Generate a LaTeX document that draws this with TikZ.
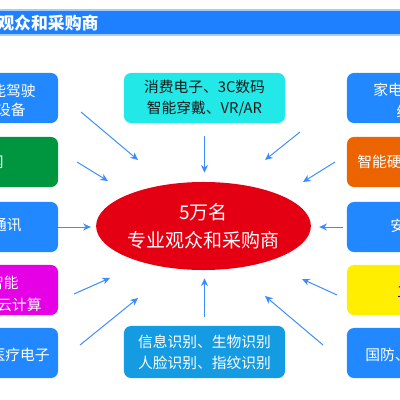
\documentclass[tikz,border=0pt]{standalone}
\usepackage{fontspec}
\setmainfont{Noto Sans CJK SC}
\usepackage{xcolor}
\definecolor{bannerblue}{RGB}{30,128,255}
\definecolor{boxblue}{RGB}{33,136,255}
\definecolor{boxgreen}{RGB}{0,150,64}
\definecolor{boxorange}{RGB}{235,100,0}
\definecolor{boxmagenta}{RGB}{230,0,230}
\definecolor{boxyellow}{RGB}{255,238,0}
\definecolor{topcyan}{RGB}{34,232,232}
\definecolor{botblue}{RGB}{20,155,225}
\definecolor{ellred}{RGB}{228,0,18}
\definecolor{arrowblue}{RGB}{60,140,255}
\definecolor{darktext}{RGB}{25,25,25}
\usepackage{tikz}
\usetikzlibrary{arrows.meta, positioning, shapes.geometric}

\begin{document}
\begin{tikzpicture}[
  x=0.025cm, y=-0.025cm,
  banner/.style={
    rectangle, fill=bannerblue, draw=bannerblue!40, line width=0.8pt,
    minimum width=10.6cm, minimum height=0.625cm, inner sep=0pt
  },
  box/.style={
    rectangle, rounded corners=5pt,
    minimum width=4.025cm, minimum height=1.25cm, inner sep=0pt,
    align=center, font=\fontsize{10.5}{15}\selectfont, text=white
  },
  txt/.style={inner sep=0pt, font=\fontsize{10.5}{15}\selectfont, text=white},
  arr/.style={-{Stealth[length=5.5pt, width=5pt]}, line width=0.7pt, color=arrowblue},
]
\useasboundingbox (0,0) rectangle (400,400);
\clip (0,0) rectangle (400,400);

%% Titel
\node[banner] (banner) at (200,22.5) {};
\node[txt, anchor=west, font=\fontsize{12}{14}\selectfont\bfseries] (title) at (-3,22.5) {观众和采购商};

%% Mitte
\node[ellipse, fill=ellred, minimum width=5.05cm, minimum height=2.2cm, inner sep=0pt,
      align=center, text=white, font=\fontsize{13.5}{19.8}\selectfont] (ell) at (203.5,226)
      {5万名\\专业观众和采购商};
\node[box, fill=topcyan, text=darktext] (top) at (204.5,98) {消费电子、3C数码\\智能穿戴、VR/AR};
\node[box, fill=botblue, minimum height=1.3cm] (bot) at (204.5,352) {信息识别、生物识别\\人脸识别、指纹识别};

%% Links
\node[box, fill=boxblue]    (l1) at (-22.5,98)  {};
\node[box, fill=boxgreen]   (l2) at (-22.5,162) {};
\node[box, fill=boxblue]    (l3) at (-22.5,227) {};
\node[box, fill=boxmagenta] (l4) at (-22.5,290) {};
\node[box, fill=boxblue]    (l5) at (-22.5,353) {};
\node[txt, anchor=east] (l1a) at (36,91)  {能驾驶};
\node[txt, anchor=east] (l1b) at (26,110) {设备};
\node[txt, anchor=east] (l2a) at (4,162)  {网};
\node[txt, anchor=east] (l3a) at (22,225) {通讯};
\node[txt, anchor=east] (l4a) at (19,283) {智能};
\node[txt, anchor=east] (l4b) at (42,305) {云计算};
\node[txt, anchor=east] (l5a) at (50,355) {医疗电子};

%% Rechts
\node[box, fill=boxblue]   (r1) at (427.5,98)  {};
\node[box, fill=boxorange] (r2) at (427.5,162) {};
\node[box, fill=boxblue]   (r3) at (427.5,227) {};
\node[box, fill=boxyellow] (r4) at (427.5,290) {};
\node[box, fill=boxblue]   (r5) at (427.5,353) {};
\node[txt, anchor=west] (r1a) at (373,90)  {家电};
\node[txt, anchor=west] (r1b) at (396,112) {线};
\node[txt, anchor=west] (r2a) at (357,162) {智能硬};
\node[txt, anchor=west] (r3a) at (390,226) {安};
\node[txt, anchor=west, text=darktext] (r4a) at (397,292) {工};
\node[txt, anchor=west] (r5a) at (365,355) {国防、};

%% Pfeile
\draw[arr, shorten <=9pt, shorten >=6.4pt] (top.south) -- (top.south |- ell.north);
\draw[arr, shorten <=6.4pt, shorten >=5.7pt] (bot.north) -- (bot.north |- ell.south);
\draw[arr, shorten >=3.5pt] (l3.east) -- (l3.east -| ell.west);
\draw[arr, shorten <=2.8pt, shorten >=5.7pt] (r3.west) -- (r3.west -| ell.east);

\coordinate (l1o) at (81,112);  \coordinate (l1i) at (138,160);
\coordinate (l2o) at (77,162);  \coordinate (l2i) at (108,181);
\coordinate (l4o) at (74,294);  \coordinate (l4i) at (110,278);
\coordinate (l5o) at (80,345);  \coordinate (l5i) at (138,298);
\coordinate (r1o) at (300,132); \coordinate (r1i) at (265,160);
\coordinate (r2o) at (335,162); \coordinate (r2i) at (303,182);
\coordinate (r4o) at (337,295); \coordinate (r4i) at (302,279);
\coordinate (r5o) at (323,345); \coordinate (r5i) at (265,296);
\draw[arr] (l1o) -- (l1i);
\draw[arr] (l2o) -- (l2i);
\draw[arr] (l4o) -- (l4i);
\draw[arr] (l5o) -- (l5i);
\draw[arr] (r1o) -- (r1i);
\draw[arr] (r2o) -- (r2i);
\draw[arr] (r4o) -- (r4i);
\draw[arr] (r5o) -- (r5i);

\end{tikzpicture}
\end{document}
